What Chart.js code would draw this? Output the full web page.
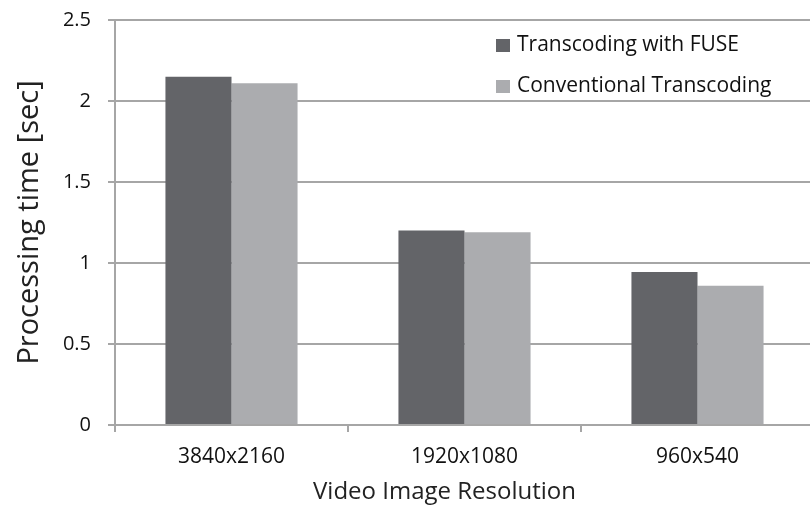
<!DOCTYPE html>
<html>
<head>
<meta charset="utf-8">
<script src="https://cdn.jsdelivr.net/npm/chart.js@4.4.0/dist/chart.umd.min.js"></script>
<style>
  html, body { margin: 0; padding: 0; background: #fff; overflow: hidden; }
  #wrap { width: 810px; height: 506px; overflow: hidden; }
  #box { width: 814px; height: 506px; }
</style>
</head>
<body>
<div id="wrap"><div id="box"><canvas id="chart"></canvas></div></div>
<script>
// data
const resolutions = ['3840x2160', '1920x1080', '960x540'];
const fuseTimes = [2.15, 1.20, 0.945];
const conventionalTimes = [2.11, 1.19, 0.86];
const yTicks = [0, 0.5, 1, 1.5, 2, 2.5];
const xTitle = 'Video Image Resolution';

const FONT = '"Open Sans", "Noto Sans", sans-serif';
const gridGray = '#a6a6a6';

// legend inside the plot (top right) + x axis title, which sits a bit left of centre
const extras = {
  id: 'extras',
  afterDraw(chart) {
    const { ctx, chartArea } = chart;
    ctx.save();
    ctx.font = '21px ' + FONT;
    ctx.textBaseline = 'middle';
    chart.data.datasets.forEach((ds, i) => {
      const x = chartArea.left + 381;
      const y = chartArea.top + 25 + i * 41;
      ctx.fillStyle = ds.backgroundColor;
      ctx.fillRect(x, y - 6, 14, 13);
      ctx.fillStyle = '#111';
      ctx.fillText(ds.label, x + 21, y);
    });

    ctx.font = '24px ' + FONT;
    ctx.fillStyle = '#222';
    ctx.textAlign = 'center';
    ctx.fillText(xTitle, (chartArea.left + chartArea.right) / 2 - 20, chart.height - 14);
    ctx.restore();
  }
};

const ctx = document.getElementById('chart').getContext('2d');
const chart = new Chart(ctx, {
  type: 'bar',
  data: {
    labels: resolutions,
    datasets: [
      {
        label: 'Transcoding with FUSE',
        data: fuseTimes,
        backgroundColor: '#636468',
        categoryPercentage: 0.567,
        barPercentage: 1.0
      },
      {
        label: 'Conventional Transcoding',
        data: conventionalTimes,
        backgroundColor: '#abacaf',
        categoryPercentage: 0.567,
        barPercentage: 1.0
      }
    ]
  },
  options: {
    responsive: true,
    maintainAspectRatio: false,
    animation: false,
    layout: { padding: { top: 20, right: 0, bottom: 0, left: 0 } },
    plugins: {
      legend: { display: false },
      tooltip: { enabled: false }
    },
    scales: {
      x: {
        grid: {
          display: true,
          drawOnChartArea: false,
          offset: true,
          tickLength: 7,
          tickColor: gridGray,
          lineWidth: 2
        },
        border: { display: true, color: gridGray, width: 2 },
        ticks: {
          color: '#111',
          padding: 12,
          font: { family: FONT, size: 21 }
        },
        title: { display: false },
        afterFit(scale) {
          scale.height = 81;
          scale.paddingLeft = 0;
          scale.paddingRight = 0;
        }
      },
      y: {
        min: 0,
        max: 2.5,
        afterBuildTicks(scale) {
          scale.ticks = yTicks.map(v => ({ value: v }));
        },
        grid: {
          color: gridGray,
          lineWidth: 2,
          tickLength: 7,
          tickColor: gridGray
        },
        border: { display: true, color: gridGray, width: 2 },
        ticks: {
          color: '#111',
          padding: 17,
          font: { family: FONT, size: 20 },
          callback: v => String(v)
        },
        title: {
          display: true,
          text: 'Processing time [sec]',
          color: '#222',
          padding: { top: 12, bottom: 0 },
          font: { family: FONT, size: 29 }
        },
        afterFit(scale) {
          scale.width = 115;
          scale.paddingTop = 0;
          scale.paddingBottom = 0;
        }
      }
    }
  },
  plugins: [extras]
});
</script>
</body>
</html>
